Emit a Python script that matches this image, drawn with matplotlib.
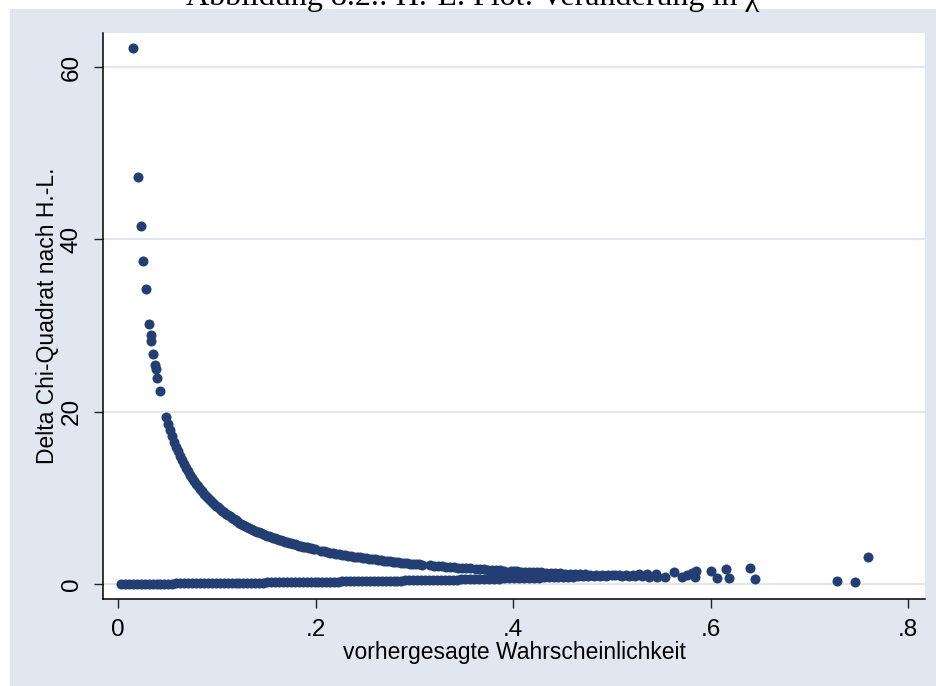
import matplotlib
matplotlib.use("Agg")
import matplotlib.pyplot as plt
from matplotlib.patches import Rectangle

# ---------------- data ----------------
# upper branch: isolated points at small probabilities
upper_sparse_x = [0.0155, 0.0203, 0.0230, 0.0250, 0.0280, 0.0317, 0.0331, 0.0338,
                  0.0358, 0.0375, 0.0381, 0.0398, 0.0422]
upper_sparse_y = [62.2, 47.3, 41.5, 37.5, 34.2, 30.2, 28.9, 28.2,
                  26.7, 25.4, 25.0, 23.9, 22.4]

# upper branch: dense curve
upper_x = [0.049, 0.051, 0.053, 0.055, 0.057, 0.059, 0.061, 0.063, 0.065, 0.067,
           0.069, 0.071, 0.073, 0.075, 0.077, 0.079, 0.081, 0.083, 0.085, 0.087,
           0.089, 0.091, 0.093, 0.095, 0.097, 0.099, 0.101, 0.103, 0.105, 0.107,
           0.109, 0.111, 0.113, 0.115, 0.117, 0.119, 0.121, 0.123, 0.125, 0.127,
           0.129, 0.131, 0.133, 0.135, 0.137, 0.139, 0.141, 0.143, 0.145, 0.147,
           0.149, 0.151, 0.153, 0.155, 0.157, 0.159, 0.161, 0.163, 0.165, 0.167,
           0.169, 0.171, 0.173, 0.175, 0.177, 0.179, 0.181, 0.183, 0.185, 0.187,
           0.189, 0.191, 0.193, 0.195, 0.197, 0.199,
           0.206, 0.209, 0.212, 0.215, 0.218, 0.221, 0.224, 0.227, 0.230, 0.233,
           0.236, 0.239, 0.242, 0.245, 0.248, 0.251, 0.254, 0.257, 0.260, 0.263,
           0.266, 0.269, 0.272, 0.275, 0.278, 0.281, 0.284, 0.287, 0.290, 0.293,
           0.296, 0.299, 0.302, 0.305, 0.308,
           0.316, 0.320, 0.324, 0.328, 0.332, 0.336, 0.340, 0.344, 0.348, 0.352, 0.356,
           0.363, 0.367, 0.371, 0.375, 0.379, 0.383, 0.387, 0.391,
           0.398, 0.401, 0.404, 0.408, 0.412, 0.416, 0.420, 0.424, 0.428, 0.433,
           0.438, 0.443, 0.448, 0.453, 0.458, 0.463, 0.468, 0.473, 0.478, 0.484,
           0.490, 0.496, 0.503, 0.510, 0.517, 0.524, 0.531, 0.538, 0.546, 0.554,
           0.571, 0.576, 0.584, 0.607, 0.619, 0.645, 0.728, 0.746]
upper_y = [19.41, 18.61, 17.87, 17.18, 16.54, 15.95, 15.39, 14.87, 14.38, 13.93,
           13.49, 13.08, 12.70, 12.33, 11.99, 11.66, 11.35, 11.05, 10.76, 10.49,
           10.24, 9.99, 9.75, 9.53, 9.31, 9.10, 8.90, 8.71, 8.52, 8.35,
           8.17, 8.01, 7.85, 7.70, 7.55, 7.40, 7.26, 7.13, 7.00, 6.87,
           6.75, 6.63, 6.52, 6.41, 6.30, 6.19, 6.09, 5.99, 5.90, 5.80,
           5.71, 5.62, 5.54, 5.45, 5.37, 5.29, 5.21, 5.13, 5.06, 4.99,
           4.92, 4.85, 4.78, 4.71, 4.65, 4.59, 4.52, 4.46, 4.41, 4.35,
           4.29, 4.24, 4.18, 4.13, 4.08, 4.03,
           3.85, 3.78, 3.72, 3.65, 3.59, 3.52, 3.46, 3.41, 3.35, 3.29,
           3.24, 3.18, 3.13, 3.08, 3.03, 2.98, 2.94, 2.89, 2.85, 2.80,
           2.76, 2.72, 2.68, 2.64, 2.60, 2.56, 2.52, 2.48, 2.45, 2.41,
           2.38, 2.34, 2.31, 2.28, 2.25,
           2.16, 2.13, 2.09, 2.05, 2.01, 1.98, 1.94, 1.91, 1.87, 1.84, 1.81,
           1.75, 1.72, 1.70, 1.67, 1.64, 1.61, 1.58, 1.56,
           1.51, 1.49, 1.48, 1.45, 1.43, 1.40, 1.38, 1.36, 1.34, 1.31,
           1.28, 1.26, 1.23, 1.21, 1.18, 1.16, 1.14, 1.11, 1.09, 1.07,
           1.04, 1.02, 0.99, 0.96, 0.93, 0.91, 0.88, 0.86, 0.83, 0.80,
           0.78, 1.05, 0.78, 0.66, 0.70, 0.54, 0.35, 0.27]

# lower branch
lower_x = [0.003, 0.007, 0.011, 0.015, 0.019, 0.023, 0.027, 0.031, 0.035, 0.039,
           0.043, 0.047, 0.051, 0.055, 0.059, 0.063, 0.067, 0.071, 0.075, 0.079,
           0.083, 0.087, 0.091, 0.095, 0.099, 0.103, 0.107, 0.111, 0.115, 0.119,
           0.123, 0.127, 0.131, 0.135, 0.139, 0.143, 0.147, 0.151, 0.155, 0.159,
           0.163, 0.167, 0.171, 0.175, 0.179, 0.183, 0.187, 0.191, 0.195, 0.199,
           0.203, 0.207, 0.211, 0.215, 0.219, 0.223, 0.227, 0.231, 0.235, 0.239,
           0.243, 0.247, 0.251, 0.255, 0.259, 0.263, 0.267, 0.271, 0.275, 0.279,
           0.283, 0.287, 0.291, 0.295, 0.299, 0.303, 0.307, 0.311, 0.315, 0.319,
           0.323, 0.327, 0.331, 0.335, 0.339, 0.343, 0.347, 0.351, 0.356, 0.361,
           0.366, 0.371, 0.376, 0.381, 0.386, 0.391, 0.396, 0.401, 0.406, 0.411,
           0.416, 0.421, 0.426, 0.431, 0.436, 0.441, 0.446, 0.451, 0.456, 0.461,
           0.466, 0.471, 0.476, 0.482, 0.488, 0.494, 0.500, 0.507, 0.514, 0.521,
           0.528, 0.536, 0.545,
           0.563, 0.581, 0.585, 0.6005, 0.616, 0.640, 0.759]
lower_y = [0.003, 0.007, 0.011, 0.015, 0.019, 0.024, 0.028, 0.032, 0.036, 0.041,
           0.045, 0.049, 0.054, 0.058, 0.063, 0.067, 0.072, 0.076, 0.081, 0.086,
           0.091, 0.095, 0.100, 0.105, 0.110, 0.115, 0.120, 0.125, 0.130, 0.135,
           0.140, 0.145, 0.151, 0.156, 0.161, 0.167, 0.172, 0.178, 0.183, 0.189,
           0.195, 0.200, 0.206, 0.212, 0.218, 0.224, 0.230, 0.236, 0.242, 0.248,
           0.255, 0.261, 0.267, 0.274, 0.280, 0.287, 0.294, 0.300, 0.307, 0.314,
           0.321, 0.328, 0.335, 0.342, 0.350, 0.357, 0.364, 0.372, 0.379, 0.387,
           0.395, 0.403, 0.410, 0.418, 0.427, 0.435, 0.443, 0.451, 0.460, 0.468,
           0.477, 0.486, 0.495, 0.504, 0.513, 0.522, 0.531, 0.541, 0.553, 0.565,
           0.577, 0.590, 0.603, 0.616, 0.629, 0.642, 0.656, 0.669, 0.684, 0.698,
           0.712, 0.727, 0.742, 0.757, 0.773, 0.789, 0.805, 0.821, 0.838, 0.855,
           0.873, 0.890, 0.908, 0.931, 0.953, 0.976, 1.000, 1.028, 1.057, 1.088,
           1.119, 1.155, 1.198,
           1.36, 1.24, 1.55, 1.51, 1.70, 1.82, 3.17]

x_ticks = [0, 0.2, 0.4, 0.6, 0.8]
x_ticklabels = ["0", ".2", ".4", ".6", ".8"]
y_ticks = [0, 20, 40, 60]
y_ticklabels = ["0", "20", "40", "60"]

title = "Abbildung 8.2.: H.-L. Plot: Veränderung in χ²"
xlabel = "vorhergesagte Wahrscheinlichkeit"
ylabel = "Delta Chi-Quadrat nach H.-L."

# ---------------- styling ----------------
W, H = 937, 686
DPI = 100
navy = "#223e72"
region = "#e1e6f1"
gridc = "#e4e6ee"
msize = 52

plt.rcParams["font.family"] = ["Liberation Sans", "DejaVu Sans"]

fig = plt.figure(figsize=(W / DPI, H / DPI), dpi=DPI, facecolor="white")
# outer graph region (Stata style)
fig.patches.append(Rectangle((10 / W, 0), 1 - 10 / W, 1 - 9 / H,
                             transform=fig.transFigure, facecolor=region,
                             edgecolor="none", zorder=-10))
# clipped caption at the very top
fig.text(478 / W, 1 - 5 / H, title, ha="center", va="baseline",
         fontsize=23, family=["Liberation Serif", "DejaVu Serif"], color="black",
         zorder=-5)

left, right, bottom, top = 103 / W, 925 / W, 1 - 599 / H, 1 - 33 / H
ax = fig.add_axes([left, bottom, right - left, top - bottom])
ax.set_facecolor("white")

ax.scatter(upper_sparse_x, upper_sparse_y, s=msize, color=navy, linewidths=0, zorder=3)
ax.scatter(upper_x, upper_y, s=msize, color=navy, linewidths=0, zorder=3)
ax.scatter(lower_x, lower_y, s=msize, color=navy, linewidths=0, zorder=3)

ax.set_xlim(-0.0152, 0.8172)
ax.set_ylim(-1.74, 63.96)

ax.set_xticks(x_ticks)
ax.set_xticklabels(x_ticklabels)
ax.set_yticks(y_ticks)
ax.set_yticklabels(y_ticklabels, rotation=90, va="center")

ax.grid(axis="y", color=gridc, linewidth=1.6, zorder=1)
ax.set_axisbelow(True)

for s in ["top", "right"]:
    ax.spines[s].set_visible(False)
for s in ["left", "bottom"]:
    ax.spines[s].set_color("black")
    ax.spines[s].set_linewidth(1.1)

ax.tick_params(axis="both", direction="out", length=6.5, width=1.0, color="#222222",
               labelsize=17.5, pad=8)
ax.set_xlabel(xlabel, fontsize=16.5, labelpad=0)
ax.set_ylabel(ylabel, fontsize=16.5, labelpad=1)

fig.savefig("out.png", dpi=DPI, facecolor=fig.get_facecolor())
